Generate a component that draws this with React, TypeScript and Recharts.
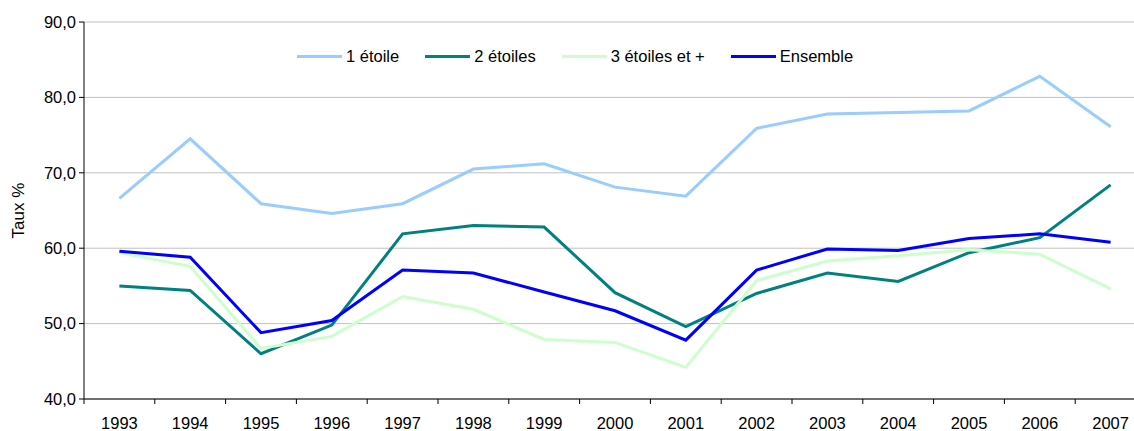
import { LineChart, Line, XAxis, YAxis, CartesianGrid } from "recharts"

const years = ["1993", "1994", "1995", "1996", "1997", "1998", "1999", "2000", "2001", "2002", "2003", "2004", "2005", "2006", "2007"]
const uneEtoile = [66.6, 74.5, 65.9, 64.6, 65.9, 70.5, 71.2, 68.1, 66.9, 75.9, 77.8, 78.0, 78.2, 82.8, 76.1]
const deuxEtoiles = [55.0, 54.4, 46.0, 49.8, 61.9, 63.0, 62.8, 54.1, 49.6, 54.0, 56.7, 55.6, 59.4, 61.4, 68.4]
const troisEtoiles = [59.4, 57.6, 46.7, 48.3, 53.6, 51.9, 47.9, 47.5, 44.2, 55.7, 58.3, 59.0, 59.8, 59.2, 54.6]
const ensemble = [59.6, 58.8, 48.8, 50.4, 57.1, 56.7, 54.2, 51.7, 47.8, 57.1, 59.9, 59.7, 61.3, 61.9, 60.8]
const yTicks = [40, 50, 60, 70, 80, 90]

const series = [
  { key: "uneEtoile", name: "1 étoile", color: "#99CCFF" },
  { key: "deuxEtoiles", name: "2 étoiles", color: "#008080" },
  { key: "troisEtoiles", name: "3 étoiles et +", color: "#CCFFCC" },
  { key: "ensemble", name: "Ensemble", color: "#0000FF" },
]

const data = years.map((year, i) => ({
  year,
  uneEtoile: uneEtoile[i],
  deuxEtoiles: deuxEtoiles[i],
  troisEtoiles: troisEtoiles[i],
  ensemble: ensemble[i],
}))

const FONT = "'Liberation Sans', Arial, sans-serif"
const CHART_W = 1160
const CHART_H = 431
const MARGIN = { top: 22, right: 14, bottom: 0, left: 0 }
const Y_W = 84
const X_H = 32
// width of one year slot; points sit in the middle, ticks between years
const band = (CHART_W - MARGIN.left - MARGIN.right - Y_W) / years.length

function YearTick(props: any) {
  const { x, y, payload, index } = props
  return (
    <g>
      <line x1={x - band / 2} x2={x - band / 2} y1={y} y2={y + 5} stroke="#000" />
      {index === years.length - 1 && (
        <line x1={x + band / 2} x2={x + band / 2} y1={y} y2={y + 5} stroke="#000" />
      )}
      <text x={x} y={y + 30} textAnchor="middle" fontSize={16.5} fill="#000" fontFamily={FONT}>
        {payload.value}
      </text>
    </g>
  )
}

function YTitle() {
  const cx = 18
  const cy = MARGIN.top + (CHART_H - MARGIN.top - MARGIN.bottom - X_H) / 2
  return (
    <text
      x={cx}
      y={cy}
      transform={`rotate(-90 ${cx} ${cy})`}
      textAnchor="middle"
      dominantBaseline="central"
      fontSize={17}
      fill="#000"
      fontFamily={FONT}
    >
      Taux %
    </text>
  )
}

export default function App() {
  return (
    <div style={{ position: "fixed", left: 0, top: 0, width: 1134, height: 431, overflow: "hidden", background: "#fff", fontFamily: FONT }}>
      <LineChart width={CHART_W} height={CHART_H} data={data} margin={MARGIN}>
        <CartesianGrid vertical={false} stroke="#C0C0C0" />
        <XAxis
          dataKey="year"
          height={X_H}
          padding={{ left: band / 2, right: band / 2 }}
          axisLine={{ stroke: "#000" }}
          tickLine={false}
          tickSize={0}
          tickMargin={0}
          interval={0}
          tick={<YearTick />}
        />
        <YAxis
          width={Y_W}
          domain={[40, 90]}
          ticks={yTicks}
          interval={0}
          axisLine={{ stroke: "#000" }}
          tickLine={{ stroke: "#000" }}
          tickSize={5}
          tickMargin={3}
          tick={{ fontSize: 16.5, fill: "#000", fontFamily: FONT }}
          tickFormatter={(v) => v.toFixed(1).replace(".", ",")}
          label={<YTitle />}
        />
        {series.map((s) => (
          <Line
            key={s.key}
            type="linear"
            dataKey={s.key}
            name={s.name}
            stroke={s.color}
            strokeWidth={3}
            dot={false}
            activeDot={false}
            isAnimationActive={false}
          />
        ))}
      </LineChart>
      <div style={{ position: "absolute", left: 297, top: 46, display: "flex", alignItems: "center", fontSize: 16.5, lineHeight: "20px", color: "#000" }}>
        {series.map((s) => (
          <div key={s.key} style={{ display: "flex", alignItems: "center", marginRight: 26 }}>
            <span style={{ display: "inline-block", width: 45, height: 3, background: s.color, marginRight: 4 }} />
            <span>{s.name}</span>
          </div>
        ))}
      </div>
    </div>
  )
}
